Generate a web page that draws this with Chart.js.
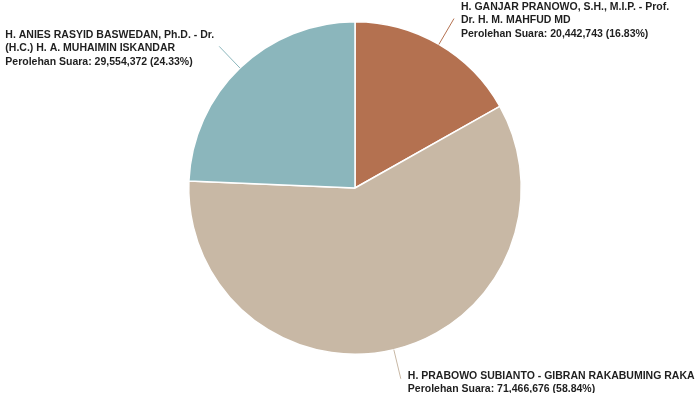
<!DOCTYPE html>
<html>
<head>
<meta charset="utf-8">
<script src="https://cdn.jsdelivr.net/npm/chart.js@4"></script>
<style>
  html, body { margin: 0; padding: 0; background: #fff; }
  #wrap { width: 700px; height: 393px; }
</style>
</head>
<body>
<div id="wrap"><canvas id="pieChart" width="700" height="393"></canvas></div>
<script>
// data
const candidates = [
    ['H. GANJAR PRANOWO, S.H., M.I.P. - Prof.', 'Dr. H. M. MAHFUD MD'],
    ['H. PRABOWO SUBIANTO - GIBRAN RAKABUMING RAKA'],
    ['H. ANIES RASYID BASWEDAN, Ph.D. - Dr.', '(H.C.) H. A. MUHAIMIN ISKANDAR']
];
const votes = [20442743, 71466676, 29554372];
const sliceColors = ['#b47150', '#c8b8a5', '#8bb6bc'];

const total = votes.reduce((a, b) => a + b, 0);

// leader lines + multi-line labels outside the slices
const outsideLabels = {
    id: 'outsideLabels',
    afterDatasetsDraw(chart) {
        const ctx = chart.ctx;
        const meta = chart.getDatasetMeta(0);
        const lineH = 13.5;
        ctx.save();
        ctx.font = 'bold 10.5px "Liberation Sans", Arial, sans-serif';
        ctx.textBaseline = 'middle';
        ctx.textAlign = 'left';
        meta.data.forEach((arc, i) => {
            const p = arc.getProps(['x', 'y', 'startAngle', 'endAngle', 'outerRadius'], true);
            const mid = (p.startAngle + p.endAngle) / 2;
            const x1 = p.x + Math.cos(mid) * p.outerRadius;
            const y1 = p.y + Math.sin(mid) * p.outerRadius;
            const x2 = p.x + Math.cos(mid) * (p.outerRadius + 30);
            const y2 = p.y + Math.sin(mid) * (p.outerRadius + 30);

            ctx.strokeStyle = sliceColors[i];
            ctx.lineWidth = 1;
            ctx.beginPath();
            ctx.moveTo(x1, y1);
            ctx.lineTo(x2, y2);
            ctx.stroke();

            const pct = (votes[i] / total * 100).toFixed(2);
            const lines = candidates[i].concat(['Perolehan Suara: ' + votes[i].toLocaleString('en-US') + ' (' + pct + '%)']);
            const widest = Math.max(...lines.map(l => ctx.measureText(l).width));
            const tx = x2 > p.x ? x2 + 7 : x2 - 5 - widest;
            const ty = y2 + 2 - (lines.length - 1) * lineH / 2 + (lines.length === 2 ? 2 : 0);
            ctx.fillStyle = '#1f1f1f';
            lines.forEach((l, k) => ctx.fillText(l, tx, ty + k * lineH));
        });
        ctx.restore();
    }
};

new Chart(document.getElementById('pieChart').getContext('2d'), {
    type: 'pie',
    data: {
        labels: candidates.map(c => c.join(' ')),
        datasets: [{
            data: votes,
            backgroundColor: sliceColors,
            borderColor: '#ffffff',
            borderWidth: 1.5
        }]
    },
    options: {
        responsive: false,
        animation: false,
        layout: { padding: { top: 21, bottom: 38, left: 10, right: 0 } },
        plugins: {
            legend: { display: false },
            tooltip: { enabled: false }
        }
    },
    plugins: [outsideLabels]
});
</script>
</body>
</html>
